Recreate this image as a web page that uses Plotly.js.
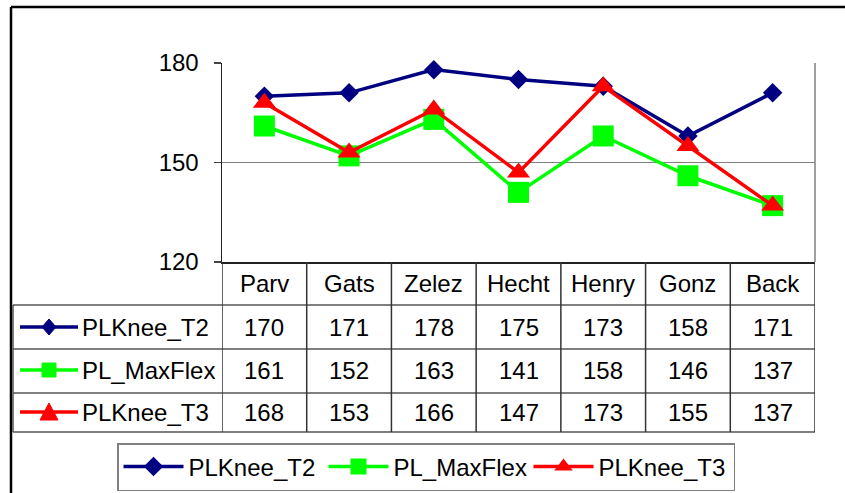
<!DOCTYPE html>
<html>
<head>
<meta charset="utf-8">
<script src="https://cdn.plot.ly/plotly-3.0.1.min.js"></script>
<style>html,body{margin:0;padding:0;background:#fff;}#chart{width:845px;height:493px;}</style>
</head>
<body>
<div id="chart"></div>
<script>
var categories = ["Parv", "Gats", "Zelez", "Hecht", "Henry", "Gonz", "Back"];
var seriesNames = ["PLKnee_T2", "PL_MaxFlex", "PLKnee_T3"];
var plKneeT2 = [170, 171, 178, 175, 173, 158, 171];
var plMaxFlex = [161, 152, 163, 141, 158, 146, 137];
var plKneeT3 = [168, 153, 166, 147, 173, 155, 137];
var yTicks = [120, 150, 180];

var seriesValues = [plKneeT2, plMaxFlex, plKneeT3];
var colors = ["#000080", "#00FF00", "#FF0000"];
var symbols = ["diamond", "square", "triangle-up"];
var msizes = [15, 21, 20];

// pixel geometry of plot area
var L = 222, R = 815, T = 63, B = 262;
function xp(px){ return (px - L) / (R - L); }
function yp(py){ return (B - py) / (B - T); }

var FS = 24;

var traces = seriesValues.map(function(vals, i){
  return {
    x: categories, y: vals, name: seriesNames[i], type: "scatter", mode: "lines+markers",
    line: {color: colors[i], width: 3.5},
    marker: {color: colors[i], symbol: symbols[i], size: msizes[i]},
    cliponaxis: false
  };
});

var shapes = [];
var annotations = [];
var lineCol = "#555555";
// outer frame (left & top)
shapes.push({type:"line", xref:"paper", yref:"paper", x0:xp(11), x1:xp(11), y0:yp(7), y1:yp(500), line:{color:"#000", width:2.5}});
shapes.push({type:"line", xref:"paper", yref:"paper", x0:xp(11), x1:xp(850), y0:yp(7), y1:yp(7), line:{color:"#000", width:2.5}});
// plot right border
shapes.push({type:"line", xref:"paper", yref:"paper", x0:1, x1:1, y0:0, y1:1, line:{color:"#808080", width:1.5}});
// table rows
var rowLines = [305, 349, 393, 432];
rowLines.forEach(function(py){
  shapes.push({type:"line", xref:"paper", yref:"paper", x0:xp(13), x1:1, y0:yp(py), y1:yp(py), line:{color:lineCol, width:1.5}});
});
// table left border
shapes.push({type:"line", xref:"paper", yref:"paper", x0:xp(13), x1:xp(13), y0:yp(305), y1:yp(432), line:{color:lineCol, width:1.5}});
// column separators
for (var c = 0; c <= categories.length; c++) {
  shapes.push({type:"line", xref:"x", yref:"paper", x0:c - 0.5, x1:c - 0.5, y0:yp(262), y1:yp(432), line:{color:"#333", width:1.5}});
}
// category labels
categories.forEach(function(cat, i){
  annotations.push({xref:"x", yref:"paper", x:i, y:yp(283), text:cat, showarrow:false, font:{size:FS, color:"#000"}, xanchor:"center", yanchor:"middle"});
});
var rowCenters = [327, 370, 412];
seriesValues.forEach(function(vals, s){
  vals.forEach(function(v, i){
    annotations.push({xref:"x", yref:"paper", x:i, y:yp(rowCenters[s]), text:String(v), showarrow:false, font:{size:FS, color:"#000"}, xanchor:"center", yanchor:"middle"});
  });
  annotations.push({xref:"paper", yref:"paper", x:xp(80), y:yp(rowCenters[s]), text:seriesNames[s], showarrow:false, font:{size:FS, color:"#000"}, xanchor:"left", yanchor:"middle"});
  // key line
  shapes.push({type:"line", xref:"paper", yref:"paper", x0:xp(20), x1:xp(78), y0:yp(rowCenters[s]), y1:yp(rowCenters[s]), line:{color:colors[s], width:3.5}});
});
// key markers (pixel-sized paths anchored at row centers; y up)
var keyPaths = [
  "M-7,0 L0,8 L7,0 L0,-8 Z",
  "M-7,-7 L7,-7 L7,7 L-7,7 Z",
  "M-9,-8 L9,-8 L0,9 Z"
];
keyPaths.forEach(function(p, s){
  shapes.push({type:"path", xref:"paper", yref:"paper", xsizemode:"pixel", ysizemode:"pixel",
    xanchor:xp(49), yanchor:yp(rowCenters[s]), path:p, fillcolor:colors[s], line:{color:colors[s], width:1}});
});

var layout = {
  width: 845, height: 493,
  margin: {l: L, r: 845 - R, t: T, b: 493 - B, pad: 0, autoexpand: false},
  paper_bgcolor: "#fff", plot_bgcolor: "#fff",
  font: {family: "Liberation Sans, Arial, sans-serif", color: "#000", size: FS},
  showlegend: true,
  legend: {orientation: "h", x: xp(117), y: yp(443), xanchor: "left", yanchor: "top",
    bordercolor: "#808080", borderwidth: 1.5, bgcolor: "#fff", font: {size: FS},
    itemwidth: 60, entrywidth: 130, entrywidthmode: "pixels", tracegroupgap: 0},
  xaxis: {type: "category", range: [-0.5, categories.length - 0.5], showticklabels: false, ticks: "",
    showgrid: false, zeroline: false, showline: true, linecolor: "#222", linewidth: 1.5, fixedrange: true},
  yaxis: {range: [120, 180], tickvals: yTicks, ticktext: yTicks.map(String), ticks: "outside", ticklen: 7,
    tickcolor: "#444", tickwidth: 1.5, showline: true, linecolor: "#222", linewidth: 1.5,
    showgrid: true, gridcolor: "#808080", gridwidth: 1.5, zeroline: false,
    tickfont: {size: FS}, ticklabelstandoff: 10, fixedrange: true},
  shapes: shapes,
  annotations: annotations
};
Plotly.newPlot("chart", traces, layout, {displayModeBar: false, staticPlot: true});
</script>
</body>
</html>
